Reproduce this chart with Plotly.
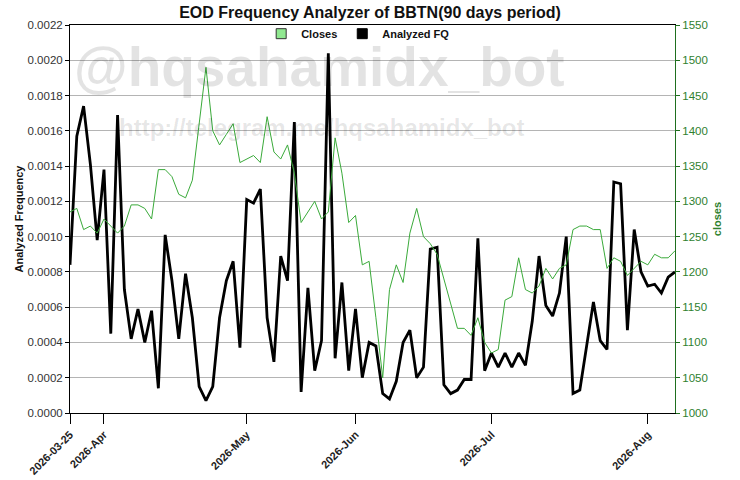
import pandas as pd
import plotly.graph_objects as go

# ---- data ----
start_date = "2026-03-25"
end_date = "2026-08-07"
holidays = ["2026-04-03", "2026-05-01", "2026-05-14", "2026-05-15",
            "2026-05-27", "2026-05-29", "2026-06-01", "2026-06-16"]

analyzed_fq = [
    0.00084, 0.00157, 0.00174, 0.00141, 0.00098, 0.00138, 0.00045, 0.00169, 0.00070, 0.00042,
    0.00059, 0.00040, 0.00058, 0.00014, 0.00101, 0.00075, 0.00042, 0.00079, 0.00054, 0.00015,
    0.00007, 0.00015, 0.00054, 0.00075, 0.00086, 0.00037, 0.00121, 0.00119, 0.00127, 0.00054,
    0.00029, 0.00089, 0.00075, 0.00165, 0.00012, 0.00071, 0.00024, 0.00041, 0.00204, 0.00031,
    0.00074, 0.00024, 0.00059, 0.00020, 0.00040, 0.00038, 0.00011, 0.00008, 0.00018, 0.00040,
    0.00047, 0.00020, 0.00026, 0.00093, 0.00094, 0.00016, 0.00011, 0.00013, 0.00019, 0.00019,
    0.00099, 0.00024, 0.00034, 0.00026, 0.00034, 0.00026, 0.00034, 0.00027, 0.00052, 0.00089,
    0.00061, 0.00055, 0.00068, 0.00100, 0.00011, 0.00013, 0.00038, 0.00063, 0.00041, 0.00036,
    0.00131, 0.00130, 0.00047, 0.00104, 0.00080, 0.00072, 0.00073, 0.00068, 0.00077, 0.00080,
]

closes = [
    1285, 1290, 1260, 1265, 1255, 1275, 1265, 1255, 1265, 1295,
    1295, 1290, 1275, 1345, 1345, 1335, 1310, 1305, 1330, 1410,
    1490, 1400, 1380, 1395, 1410, 1355, 1360, 1365, 1355, 1420,
    1370, 1360, 1380, 1340, 1270, 1285, 1300, 1275, 1285, 1390,
    1340, 1270, 1280, 1210, 1215, 1135, 1050, 1175, 1210, 1185,
    1255, 1290, 1250, 1240, 1225, 1190, 1155, 1120, 1120, 1110,
    1135, 1100, 1085, 1090, 1160, 1165, 1220, 1175, 1170, 1180,
    1205, 1190, 1205, 1210, 1260, 1265, 1265, 1260, 1260, 1205,
    1220, 1215, 1195, 1205, 1215, 1210, 1225, 1220, 1220, 1230,
]

tick_dates = ["2026-03-25", "2026-04-01", "2026-05-04", "2026-06-02", "2026-07-01", "2026-08-03"]
tick_labels = ["2026-03-25", "2026-Apr", "2026-May", "2026-Jun", "2026-Jul", "2026-Aug"]

fq_ticks = [0.0000, 0.0002, 0.0004, 0.0006, 0.0008, 0.0010, 0.0012,
            0.0014, 0.0016, 0.0018, 0.0020, 0.0022]
close_ticks = [1000, 1050, 1100, 1150, 1200, 1250, 1300, 1350, 1400, 1450, 1500, 1550]

dates = [d.strftime("%Y-%m-%d") for d in pd.bdate_range(start_date, end_date)
         if d.strftime("%Y-%m-%d") not in holidays]

# ---- styles ----
FONT = "Liberation Sans, Arial, sans-serif"
GREEN_LINE = "#3aaa3a"
GREEN_AXIS = "#1f6f1f"
GREEN_TEXT = "#2f7f2f"

fig = go.Figure()

fig.add_trace(go.Scatter(
    x=dates, y=closes, mode="lines", yaxis="y2",
    line=dict(color=GREEN_LINE, width=1), showlegend=False, name="Closes",
))
fig.add_trace(go.Scatter(
    x=dates, y=analyzed_fq, mode="lines", yaxis="y",
    line=dict(color="black", width=2.8), showlegend=False, name="Analyzed FQ",
))
# legend entries (square markers)
fig.add_trace(go.Scatter(
    x=[None], y=[None], mode="markers", name="Closes",
    marker=dict(symbol="square", size=10, color="#90e890", line=dict(color="#333333", width=1)),
))
fig.add_trace(go.Scatter(
    x=[None], y=[None], mode="markers", name="Analyzed FQ",
    marker=dict(symbol="square", size=10, color="black", line=dict(color="black", width=1)),
))

fig.update_layout(
    width=740, height=480,
    margin=dict(l=70, r=65, t=25, b=67, autoexpand=False),
    paper_bgcolor="white", plot_bgcolor="white",
    font=dict(family=FONT, color="#222222"),
    title=dict(text="<b>EOD Frequency Analyzer of BBTN(90 days period)</b>",
               x=0.5, xanchor="center", y=0.975, yanchor="middle",
               font=dict(size=16, color="#111111")),
    legend=dict(orientation="h", x=0.316, xanchor="left", y=1.015, yanchor="top",
                bgcolor="rgba(0,0,0,0)", font=dict(size=11, weight="bold", color="#111111"),
                itemwidth=30, tracegroupgap=0),
    xaxis=dict(
        type="category", range=[0, len(dates) - 1], automargin=False,
        tickmode="array", tickvals=tick_dates, ticktext=tick_labels,
        tickangle=-45, tickfont=dict(size=11, weight="bold", color="#222222"),
        ticks="outside", ticklen=10, tickcolor="black",
        showline=True, linecolor="black", linewidth=1, mirror=True,
        showgrid=False, zeroline=False,
    ),
    yaxis=dict(
        range=[0, 0.0022], tickmode="array", tickvals=fq_ticks, tickformat=".4f",
        automargin=False,
        tickfont=dict(size=11.5, color="#333333"),
        ticks="outside", ticklen=4, tickcolor="black",
        showline=True, linecolor="black", linewidth=1,
        showgrid=True, gridcolor="#b4b4b4", gridwidth=1, zeroline=False,
        title=dict(text="<b>Analyzed Frequency</b>", font=dict(size=11, color="#111111"), standoff=1),
    ),
    yaxis2=dict(
        range=[1000, 1550], tickmode="array", tickvals=close_ticks,
        overlaying="y", side="right", automargin=False,
        tickfont=dict(size=11.5, color=GREEN_TEXT),
        ticks="outside", ticklen=4, tickcolor=GREEN_AXIS,
        showline=True, linecolor=GREEN_AXIS, linewidth=1,
        showgrid=False, zeroline=False,
        title=dict(text="<b>closes</b>", font=dict(size=11, color=GREEN_TEXT), standoff=6),
    ),
    annotations=[
        dict(text="<b>@hqsahamidx_bot</b>", xref="paper", yref="paper",
             x=0.4124, y=0.892, xanchor="center", yanchor="middle", showarrow=False,
             font=dict(family=FONT, size=55, color="rgba(0,0,0,0.11)")),
        dict(text="<b>http://telegram.me/hqsahamidx_bot</b>", xref="paper", yref="paper",
             x=0.4157, y=0.735, xanchor="center", yanchor="middle", showarrow=False,
             font=dict(family=FONT, size=24, color="rgba(0,0,0,0.10)")),
    ],
)

fig.write_html("out.html", config={"displayModeBar": False},
               post_script="document.body.style.margin='0px';")
